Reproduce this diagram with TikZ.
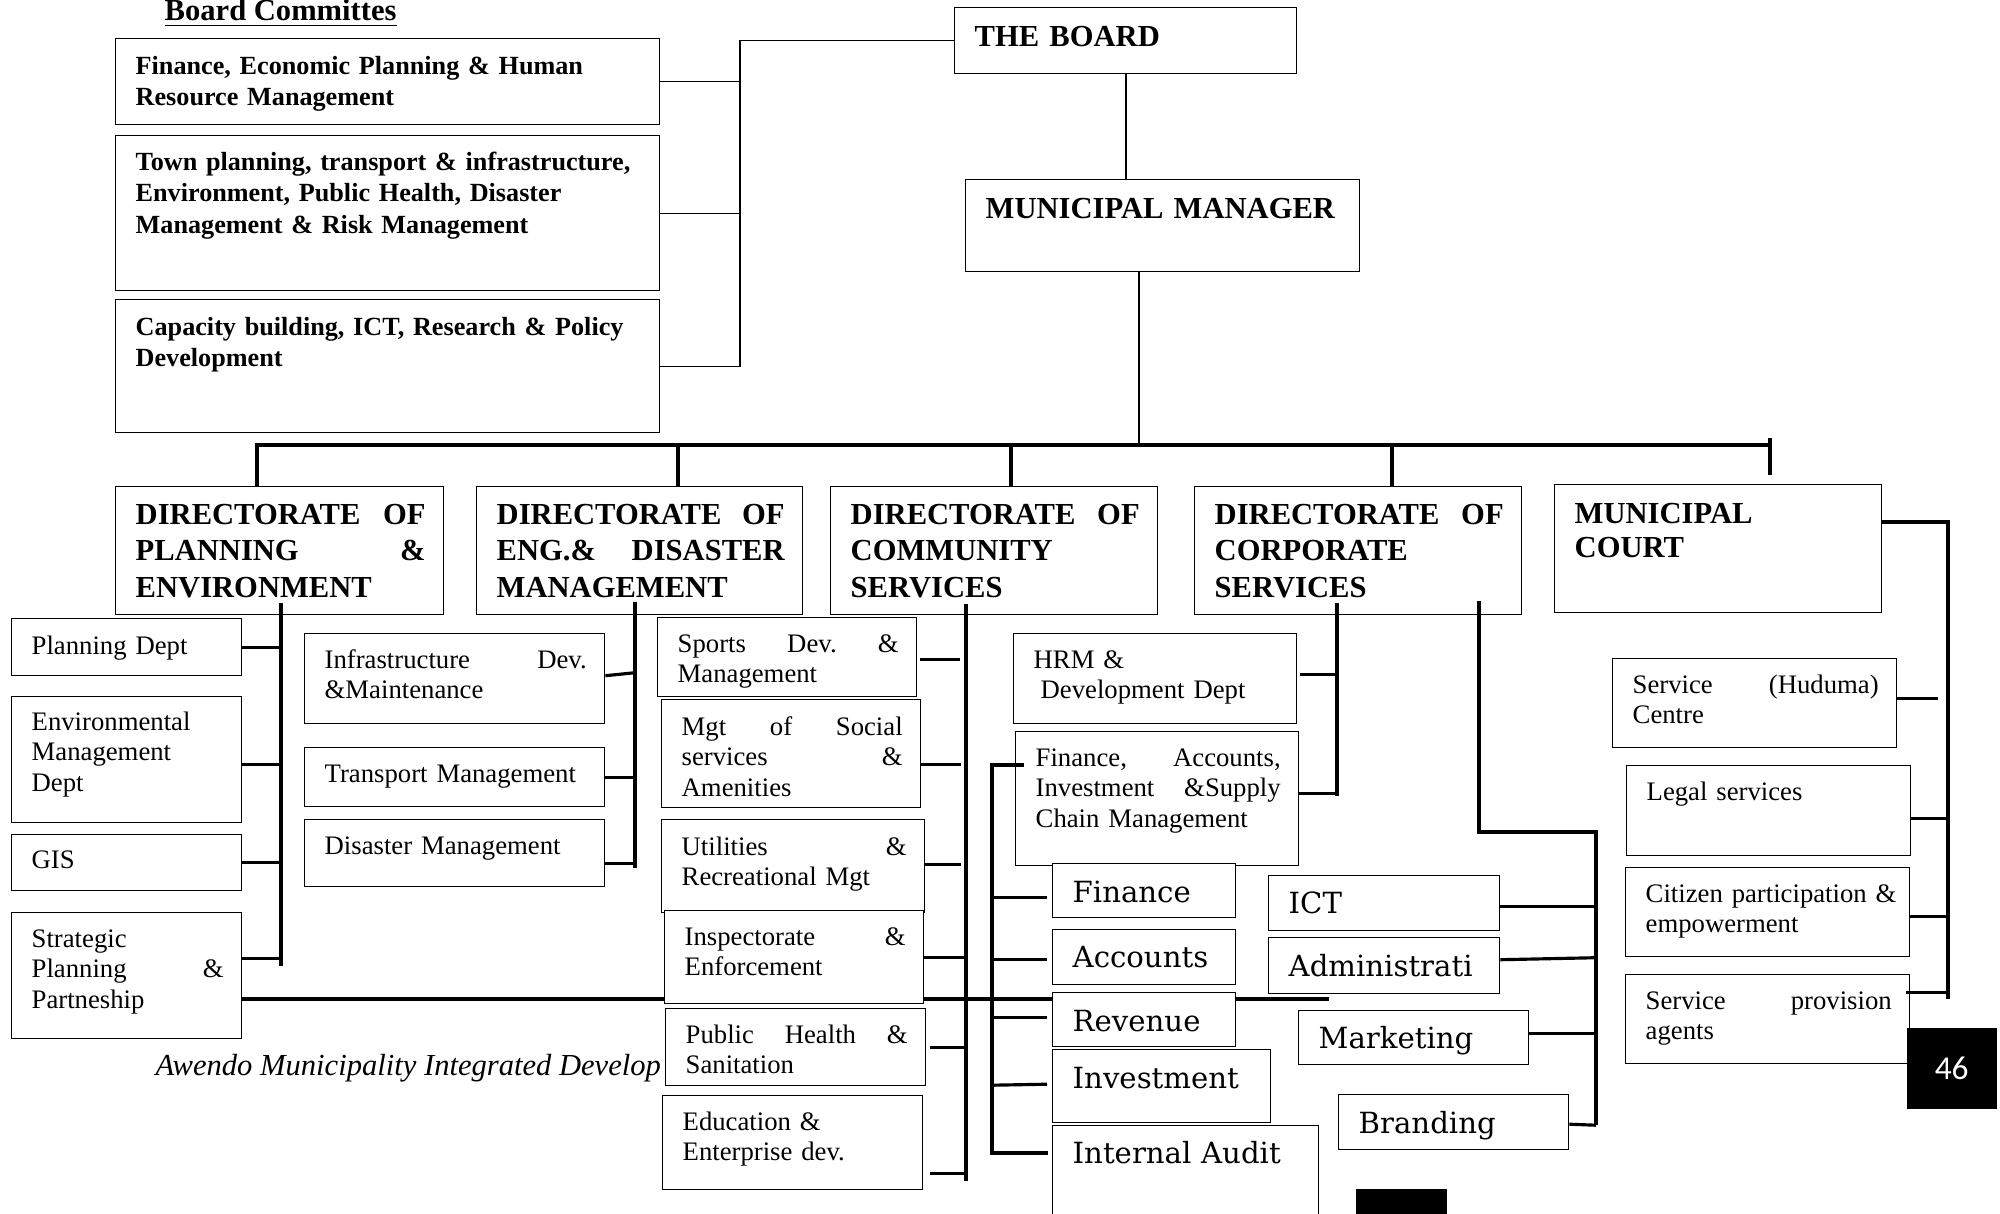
\documentclass[tikz,border=0pt]{standalone}
\usepackage{fontspec}
\setmainfont{Liberation Serif}
\newfontfamily\unitfont{DejaVu Serif}
\newfontfamily\pagefont{Carlito}
\usepackage{tikz}
\usetikzlibrary{calc, backgrounds}
\newdimen\pxu \pxu=0.1mm
\newdimen\boxw
\newdimen\boxh
\newdimen\boxtw
\tikzstyle{box} = [draw, fill=white, line width=0.4pt, anchor=north west, inner sep=0pt]
\tikzstyle{head} = [anchor=base west, inner sep=0pt, align=left, font=\fontsize{8.7}{10.5}\selectfont\bfseries]
\tikzstyle{court} = [head, font=\fontsize{8.7}{9.9}\selectfont\bfseries]
\tikzstyle{comm} = [anchor=base west, inner sep=0pt, align=left, font=\fontsize{7.45}{9.1}\selectfont\bfseries]
\tikzstyle{sub} = [anchor=base west, inner sep=0pt, align=left, font=\fontsize{7.6}{8.8}\selectfont]
\tikzstyle{unit} = [anchor=base west, inner sep=0pt, align=left, font=\unitfont\fontsize{8.3}{10}\selectfont]
\tikzstyle{link} = [line width=0.9pt]
\tikzstyle{thinlink} = [line width=0.4pt]
\newcommand{\orgbox}[8]{%
  \boxw=#4\pxu \boxh=#5\pxu \boxtw=\dimexpr#4\pxu-38\pxu\relax
  \node[box, minimum width=\boxw, minimum height=\boxh] (#1) at (#2,#3) {};
  \node[#7, text width=\boxtw] (#1-t) at ($(#1.north west)+(20,#6)$) {#8};}

\begin{document}
\begin{tikzpicture}[x=0.1mm, y=-0.1mm]
	\useasboundingbox (0,0) rectangle (2000,1213);
	\node[anchor=base west, inner sep=0pt, font=\fontsize{8.7}{10}\selectfont\bfseries] (title) at (164,20) {\underline{Board Committes}};
	\orgbox{c1}{115}{38}{544}{86}{36}{comm}{Finance, Economic Planning \& Human\\Resource Management}
	\orgbox{c2}{115}{135}{544}{155}{35}{comm}{Town planning, transport \& infrastructure,\\Environment, Public Health, Disaster\\Management \& Risk Management}
	\orgbox{c3}{115}{299}{544}{133}{36}{comm}{Capacity building, ICT, Research \& Policy\\Development}
	\orgbox{board}{954}{7}{342}{66}{39}{head}{THE BOARD}
	\orgbox{mm}{965}{179}{394}{92}{39}{head}{MUNICIPAL MANAGER}
	\orgbox{d1}{115}{486}{328}{128}{38}{head}{DIRECTORATE\hfill OF\\PLANNING\hfill\&\\ENVIRONMENT}
	\orgbox{d2}{476}{486}{326}{128}{38}{head}{DIRECTORATE\hfill OF\\ENG.\&\hfill DISASTER\\MANAGEMENT}
	\orgbox{d3}{830}{486}{327}{128}{38}{head}{DIRECTORATE\hfill OF\\COMMUNITY\\SERVICES}
	\orgbox{d4}{1194}{486}{327}{128}{38}{head}{DIRECTORATE\hfill OF\\CORPORATE\\SERVICES}
	\orgbox{mc}{1554}{484}{327}{128}{39}{court}{MUNICIPAL\\COURT}
	\orgbox{pd}{11}{618}{230}{57}{36}{sub}{Planning Dept}
	\orgbox{emd}{11}{696}{230}{126}{34}{sub}{Environmental\\Management\\Dept}
	\orgbox{gis}{11}{834}{230}{56}{34}{sub}{GIS}
	\orgbox{spp}{11}{912}{230}{126}{35}{sub}{Strategic\\Planning\hfill\&\\Partneship}
	\orgbox{idm}{304}{633}{300}{90}{35}{sub}{Infrastructure\hfill Dev.\\\&Maintenance}
	\orgbox{tm}{304}{747}{300}{59}{35}{sub}{Transport Management}
	\orgbox{dm}{304}{819}{300}{67}{35}{sub}{Disaster Management}
	\orgbox{sdm}{657}{617}{259}{79}{35}{sub}{Sports\hfill Dev.\hfill\&\\Management}
	\orgbox{mss}{661}{699}{259}{108}{36}{sub}{Mgt\hfill of\hfill Social\\services\hfill\&\\Amenities}
	\orgbox{urm}{661}{819}{263}{93}{36}{sub}{Utilities\hfill\&\\Recreational Mgt}
	\orgbox{ie}{664}{910}{259}{93}{35}{sub}{Inspectorate\hfill\&\\Enforcement}
	\orgbox{phs}{665}{1008}{260}{77}{35}{sub}{Public\hfill Health\hfill\&\\Sanitation}
	\orgbox{eed}{662}{1095}{260}{94}{35}{sub}{Education \&\\Enterprise dev.}
	\orgbox{hrm}{1013}{633}{283}{90}{35}{sub}{HRM \&\\\hspace*{7\pxu}Development Dept}
	\orgbox{fasc}{1015}{731}{283}{134}{35}{sub}{Finance,\hfill Accounts,\\Investment\hfill\&Supply\\Chain Management}
	\orgbox{fin}{1052}{863}{183}{54}{39}{unit}{Finance}
	\orgbox{acc}{1052}{929}{183}{55}{38}{unit}{Accounts}
	\orgbox{rev}{1052}{992}{183}{54}{39}{unit}{Revenue}
	\orgbox{inv}{1052}{1049}{218}{73}{39}{unit}{Investment}
	\orgbox{ia}{1052}{1125}{266}{120}{38}{unit}{Internal Audit}
	\orgbox{ict}{1268}{875}{231}{55}{38}{unit}{ICT}
	\orgbox{adm}{1268}{937}{231}{56}{39}{unit}{Administrati}
	\orgbox{mkt}{1298}{1010}{230}{54}{38}{unit}{Marketing}
	\orgbox{brd}{1338}{1094}{230}{55}{39}{unit}{Branding}
	\orgbox{hud}{1612}{658}{284}{89}{35}{sub}{Service\hfill (Huduma)\\Centre}
	\orgbox{legal}{1626}{765}{284}{90}{35}{sub}{Legal services}
	\orgbox{cit}{1625}{867}{284}{89}{35}{sub}{\mbox{Citizen participation \&}\\empowerment}
	\orgbox{spa}{1625}{974}{284}{89}{35}{sub}{Service\hfill provision\\agents}
	\node[fill=black, anchor=north west, inner sep=0pt, minimum width=9mm, minimum height=8.1mm, text=white, font=\pagefont\fontsize{9.5}{11}\selectfont] (pageno) at (1906,1027) {46};
	\fill (1356,1189) rectangle (1447,1225);
	\coordinate (cb) at (740,38);
	\draw[thinlink] (board.west) -| (cb |- c3.east) -- (c3.east);
	\draw[thinlink] (c1.east) -- (c1.east -| cb);
	\draw[thinlink] (c2.east) -- (c2.east -| cb);
	\draw[line width=0.5pt] (board.south) -- (board.south |- mm.north);
	\coordinate (mmb) at (1139,445);
	\draw[line width=0.6pt] (mmb |- mm.south) -- (mmb);
	\coordinate (b1) at (257,445);
	\coordinate (b2) at (678,445);
	\coordinate (b3) at (1011,445);
	\coordinate (b4) at (1392,445);
	\coordinate (b5) at (1770,445);
	\draw[line width=1pt] ($(b1)+(-2,0)$) -- (b5);
	\draw[link] (b1) -- (b1 |- d1.north);
	\draw[link] (b2) -- (b2 |- d2.north);
	\draw[link] (b3) -- (b3 |- d3.north);
	\draw[link] (b4) -- (b4 |- d4.north);
	\draw[link] ($(b5)+(0,-7)$) -- ($(b5 |- mc.north)+(0,-9)$);
	\coordinate (s1) at (281,603);
	\draw[link] (s1) -- ($(s1 |- spp.east)+(0,-10)$);
	\draw[link] (pd.east) -- (pd.east -| s1);
	\draw[link] ($(emd.east)+(0,5)$) -- ($(emd.east -| s1)+(0,5)$);
	\draw[link] (gis.east) -- (gis.east -| s1);
	\draw[link] ($(spp.east)+(0,-17)$) -- ($(spp.east -| s1)+(0,-17)$);
	\coordinate (s2) at (635,602);
	\draw[link] (s2) -- ($(s2 |- dm.east)+(0,15)$);
	\draw[link] ($(idm.east)+(0,-3)$) -- ($(idm.east -| s2)+(0,-6)$);
	\draw[link] (tm.east) -- (tm.east -| s2);
	\draw[link] ($(dm.east)+(0,10)$) -- ($(dm.east -| s2)+(0,10)$);
	\coordinate (s3) at (966,604);
	\draw[link] (s3) -- ($(s3 |- eed.east)+(0,38)$);
	\draw[link] ($(sdm.east)+(3,2)$) -- ($(sdm.east -| s3)+(-6,2)$);
	\draw[link] ($(mss.east)+(0,11)$) -- ($(mss.east -| s3)+(-5,11)$);
	\draw[link] ($(urm.east)+(0,-2)$) -- ($(urm.east -| s3)+(-5,-2)$);
	\draw[link] (ie.east) -- (ie.east -| s3);
	\draw[link] ($(phs.east)+(4,0)$) -- (phs.east -| s3);
	\draw[link] ($(eed.east)+(7,31)$) -- ($(eed.east -| s3)+(0,31)$);
	\coordinate (s4) at (1337,603);
	\draw[link] (s4) -- ($(s4 |- fasc.east)+(0,-3)$);
	\draw[link] ($(hrm.east)+(3,-4)$) -- ($(hrm.east -| s4)+(0,-4)$);
	\draw[link] ($(fasc.east)+(0,-5)$) -- ($(fasc.east -| s4)+(0,-5)$);
	\coordinate (s5) at (1479,601);
	\coordinate (s5c) at (1596,832);
	\draw[link] (s5) |- (s5c) -- ($(s5c |- brd.east)+(0,3)$);
	\draw[link] ($(ict.east)+(0,3)$) -- ($(ict.east -| s5c)+(0,3)$);
	\draw[link] ($(adm.east)+(0,-6)$) -- ($(adm.east -| s5c)+(0,-8)$);
	\draw[link] ($(mkt.east)+(0,-4)$) -- ($(mkt.east -| s5c)+(0,-4)$);
	\draw[link] ($(brd.east)+(0,2)$) -- ($(brd.east -| s5c)+(0,3)$);
	\coordinate (s6) at (992,765);
	\draw[link] ($(fasc.west |- s6)+(9,0)$) -- (s6) -- ($(s6 |- ia.north)+(0,30)$);
	\draw[link] ($(fin.west -| s6)+(0,7)$) -- ($(fin.west)+(-5,7)$);
	\draw[link] ($(acc.west -| s6)+(0,2)$) -- ($(acc.west)+(-5,2)$);
	\draw[link] ($(rev.west -| s6)+(0,-2)$) -- ($(rev.west)+(-5,-2)$);
	\draw[link] ($(inv.west -| s6)+(0,-1)$) -- ($(inv.west)+(-5,-2)$);
	\draw[link] ($(ia.north west -| s6)+(0,28)$) -- ($(ia.north west)+(-4,28)$);
	\coordinate (s7) at (1948,522);
	\draw[link] (s7 -| mc.east) -- (s7) -- ($(s7 |- spa.east)+(0,-20)$);
	\draw[link] ($(hud.east)+(0,-5)$) -- ++(41,0);
	\draw[link] ($(legal.east)+(0,8)$) -- ($(legal.east -| s7)+(0,8)$);
	\draw[link] ($(cit.east)+(0,4)$) -- ($(cit.east -| s7)+(0,4)$);
	\draw[link] ($(spa.east)+(-4,-27)$) -- ($(spa.east -| s7)+(0,-27)$);
	\begin{pgfonlayer}{background}
	\coordinate (lend) at (1329,999);
	\draw[link] (spp.east |- lend) -- (lend);
	\node[anchor=base west, inner sep=0pt, font=\fontsize{8.7}{10}\selectfont\itshape] (footer) at (155,1075) {Awendo Municipality Integrated Develop};
	\end{pgfonlayer}
\end{tikzpicture}
\end{document}
